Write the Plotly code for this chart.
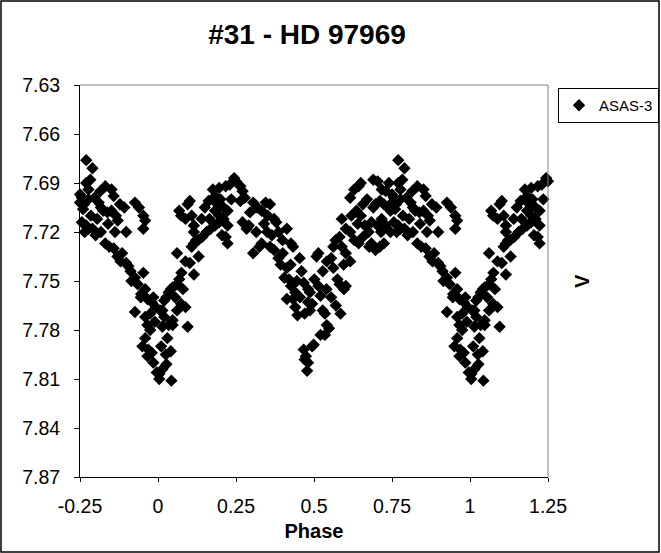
import plotly.graph_objects as go

# Phase-folded ASAS-3 V magnitudes (base phase 0..1)
phase_a = [0.770, 0.790, 0.750, 0.756, 0.750, 0.763, 0.777, 0.770, 0.777, 0.783,
           0.756, 0.770, 0.777, 0.797, 0.810, 0.817, 0.824, 0.838, 0.831, 0.851,
           0.858, 0.851, 0.865, 0.871, 0.817, 0.831, 0.844, 0.858, 0.885, 0.898,
           0.905, 0.898, 0.878, 0.892, 0.926, 0.939, 0.953, 0.959, 0.953, 0.912,
           0.926, 0.953, 0.959, 0.946, 0.926, 0.966, 0.980, 0.993, 0.959, 0.966,
           0.959, 0.969, 0.966, 0.980, 0.996, 0.760, 0.785, 0.790, 0.800, 0.765,
           0.805, 0.815, 0.840, 0.862, 0.870, 0.880, 0.915, 0.935, 0.945, 0.975,
           0.985, 0.990, 0.975, 0.985, 0.950]
mag_a = [7.676, 7.681, 7.697, 7.699, 7.702, 7.703, 7.700, 7.690, 7.694, 7.688,
         7.714, 7.716, 7.718, 7.699, 7.702, 7.705, 7.707, 7.708, 7.692, 7.694,
         7.698, 7.707, 7.710, 7.713, 7.720, 7.727, 7.729, 7.730, 7.733, 7.739,
         7.741, 7.720, 7.703, 7.705, 7.702, 7.705, 7.710, 7.713, 7.718, 7.744,
         7.748, 7.745, 7.755, 7.758, 7.769, 7.761, 7.763, 7.766, 7.772, 7.777,
         7.785, 7.792, 7.796, 7.794, 7.806, 7.706, 7.710, 7.718, 7.722, 7.720,
         7.712, 7.695, 7.715, 7.720, 7.735, 7.738, 7.750, 7.752, 7.760, 7.770,
         7.760, 7.775, 7.780, 7.800, 7.790]

phase_b = [0.007, 0.004, 0.004, 0.020, 0.027, 0.034, 0.041, 0.047, 0.061, 0.068,
           0.014, 0.020, 0.034, 0.047, 0.061, 0.074, 0.014, 0.047, 0.041, 0.043,
           0.014, 0.027, 0.088, 0.095, 0.061, 0.068, 0.074, 0.088, 0.095, 0.102,
           0.108, 0.115, 0.088, 0.102, 0.115, 0.108, 0.115, 0.129, 0.142, 0.156,
           0.169, 0.183, 0.196, 0.210, 0.223, 0.115, 0.122, 0.162, 0.176, 0.183,
           0.196, 0.217, 0.230, 0.244, 0.183, 0.196, 0.210, 0.223, 0.217, 0.223,
           0.130, 0.140, 0.150, 0.165, 0.200, 0.190, 0.235, 0.205, 0.055, 0.075,
           0.080, 0.030, 0.010, 0.025]
mag_b = [7.768, 7.807, 7.810, 7.762, 7.760, 7.757, 7.755, 7.754, 7.752, 7.749,
         7.768, 7.772, 7.777, 7.774, 7.768, 7.764, 7.778, 7.777, 7.793, 7.811,
         7.804, 7.801, 7.766, 7.778, 7.733, 7.707, 7.710, 7.712, 7.703, 7.701,
         7.710, 7.716, 7.738, 7.739, 7.746, 7.729, 7.727, 7.725, 7.723, 7.720,
         7.718, 7.716, 7.714, 7.712, 7.707, 7.720, 7.725, 7.701, 7.694, 7.698,
         7.693, 7.692, 7.691, 7.687, 7.707, 7.710, 7.705, 7.716, 7.723, 7.727,
         7.735, 7.712, 7.705, 7.712, 7.700, 7.703, 7.700, 7.722, 7.760, 7.745,
         7.755, 7.785, 7.790, 7.795]

phase_c = [0.250, 0.264, 0.271, 0.278, 0.264, 0.271, 0.284, 0.291, 0.305, 0.318,
           0.332, 0.345, 0.359, 0.352, 0.372, 0.379, 0.305, 0.325, 0.332, 0.359,
           0.372, 0.386, 0.393, 0.386, 0.399, 0.413, 0.426, 0.433, 0.413, 0.420,
           0.426, 0.440, 0.433, 0.413, 0.440, 0.447, 0.454, 0.460, 0.467, 0.481,
           0.487, 0.467, 0.474, 0.481, 0.494, 0.499, 0.487, 0.494, 0.481, 0.295,
           0.315, 0.340, 0.350, 0.365, 0.400, 0.405, 0.425, 0.445, 0.455, 0.470,
           0.478, 0.470]
mag_c = [7.689, 7.692, 7.695, 7.699, 7.701, 7.714, 7.718, 7.716, 7.702, 7.705,
         7.707, 7.702, 7.703, 7.710, 7.712, 7.714, 7.733, 7.729, 7.727, 7.729,
         7.731, 7.736, 7.740, 7.720, 7.725, 7.718, 7.727, 7.729, 7.742, 7.749,
         7.753, 7.757, 7.761, 7.761, 7.766, 7.771, 7.736, 7.744, 7.751, 7.755,
         7.757, 7.792, 7.796, 7.800, 7.790, 7.789, 7.768, 7.764, 7.763, 7.708,
         7.720, 7.715, 7.720, 7.722, 7.733, 7.748, 7.740, 7.750, 7.760, 7.770,
         7.805, 7.798]

phase_d = [0.501, 0.514, 0.521, 0.528, 0.535, 0.541, 0.535, 0.521, 0.548, 0.508,
           0.514, 0.528, 0.541, 0.555, 0.562, 0.575, 0.582, 0.596, 0.602, 0.562,
           0.569, 0.582, 0.589, 0.602, 0.616, 0.589, 0.602, 0.616, 0.629, 0.643,
           0.657, 0.663, 0.616, 0.629, 0.643, 0.650, 0.636, 0.650, 0.657, 0.677,
           0.684, 0.697, 0.711, 0.724, 0.690, 0.704, 0.717, 0.697, 0.711, 0.724,
           0.738, 0.745, 0.684, 0.704, 0.717, 0.731, 0.745, 0.555, 0.570, 0.585,
           0.540, 0.595, 0.620, 0.640, 0.670, 0.675, 0.690, 0.715, 0.730, 0.740]
mag_d = [7.749, 7.753, 7.759, 7.768, 7.770, 7.777, 7.783, 7.783, 7.779, 7.735,
         7.733, 7.744, 7.738, 7.736, 7.742, 7.749, 7.752, 7.755, 7.753, 7.729,
         7.725, 7.723, 7.729, 7.733, 7.738, 7.712, 7.718, 7.720, 7.725, 7.727,
         7.723, 7.716, 7.699, 7.694, 7.692, 7.690, 7.707, 7.710, 7.703, 7.729,
         7.727, 7.731, 7.729, 7.727, 7.688, 7.689, 7.694, 7.703, 7.701, 7.703,
         7.705, 7.707, 7.714, 7.716, 7.712, 7.716, 7.720, 7.760, 7.765, 7.770,
         7.755, 7.740, 7.710, 7.715, 7.700, 7.720, 7.705, 7.720, 7.695, 7.690]

x_ticks = [-0.25, 0, 0.25, 0.5, 0.75, 1, 1.25]
x_tick_labels = ["-0.25", "0", "0.25", "0.5", "0.75", "1", "1.25"]
y_ticks = [7.63, 7.66, 7.69, 7.72, 7.75, 7.78, 7.81, 7.84, 7.87]
y_tick_labels = ["7.63", "7.66", "7.69", "7.72", "7.75", "7.78", "7.81", "7.84", "7.87"]

base_phase = phase_a + phase_b + phase_c + phase_d
base_mag = mag_a + mag_b + mag_c + mag_d

# fold onto the displayed phase window -0.25 .. 1.25
xs, ys = [], []
for p, m in zip(base_phase, base_mag):
    for shift in (-1, 0, 1):
        q = p + shift
        if -0.25 <= q <= 1.25:
            xs.append(q)
            ys.append(m)

W, H = 661, 553
L, R, T, B = 80, 113, 85, 76
pw, ph = W - L - R, H - T - B

FONT = "Liberation Sans, Arial, sans-serif"

fig = go.Figure()
fig.add_trace(go.Scatter(
    x=xs, y=ys, mode="markers", name="ASAS-3",
    marker=dict(symbol="diamond", size=9.5, color="black", line=dict(width=0)),
    cliponaxis=False,
))

fig.update_layout(
    width=W, height=H,
    margin=dict(l=L, r=R, t=T, b=B, pad=0, autoexpand=False),
    paper_bgcolor="white", plot_bgcolor="white",
    font=dict(family=FONT, color="black", size=19),
    title=dict(text="<b>#31 - HD 97969</b>", font=dict(size=28, family=FONT),
               x=307 / W, xanchor="center", y=1 - 34 / H, yanchor="middle",
               xref="container", yref="container"),
    xaxis=dict(range=[-0.25, 1.25], tickvals=x_ticks, ticktext=x_tick_labels,
               showgrid=False, zeroline=False, showline=True, linecolor="black",
               linewidth=1, ticks="outside", ticklen=4, tickcolor="black",
               tickfont=dict(size=19.5), ticklabelstandoff=8,
               title=dict(text="<b>Phase</b>", font=dict(size=20), standoff=7)),
    yaxis=dict(range=[7.87, 7.63], tickvals=y_ticks, ticktext=y_tick_labels,
               showgrid=False, zeroline=False, showline=True, linecolor="black",
               linewidth=1, ticks="outside", ticklen=5, tickcolor="black",
               tickfont=dict(size=19.5), ticklabelstandoff=10),
    xaxis2=dict(range=[-0.25, 1.25], overlaying="x", tickvals=x_ticks,
                showticklabels=False, ticks="inside", ticklen=4, tickcolor="black",
                showgrid=False, zeroline=False, showline=False),
    yaxis2=dict(range=[7.87, 7.63], overlaying="y", tickvals=y_ticks,
                showticklabels=False, ticks="inside", ticklen=4, tickcolor="black",
                showgrid=False, zeroline=False, showline=False),
    showlegend=True,
    legend=dict(x=(558 - L) / pw, y=(H - B - 88) / ph, xanchor="left", yanchor="top",
                bgcolor="white", bordercolor="black", borderwidth=1,
                font=dict(size=15, family=FONT), itemwidth=30,
                tracegroupgap=0),
)

# plot-area top/right frame (gray) and outer chart border
fig.add_shape(type="line", xref="paper", yref="paper", x0=0, x1=1, y0=1, y1=1,
              line=dict(color="#808080", width=1))
fig.add_shape(type="line", xref="paper", yref="paper", x0=1, x1=1, y0=0, y1=1,
              line=dict(color="#808080", width=1))
fig.add_shape(type="rect", xref="paper", yref="paper",
              x0=(1 - L) / pw, x1=(659 - L) / pw,
              y0=(H - B - 552) / ph, y1=(H - B - 1) / ph,
              line=dict(color="black", width=1.5), fillcolor="rgba(0,0,0,0)")

fig.add_annotation(text="<b>V</b>", xref="paper", yref="paper",
                   x=(582 - L) / pw, y=0.5, xanchor="center", yanchor="middle",
                   showarrow=False, textangle=-90,
                   font=dict(size=20, family=FONT))

fig.write_html("out.html")
